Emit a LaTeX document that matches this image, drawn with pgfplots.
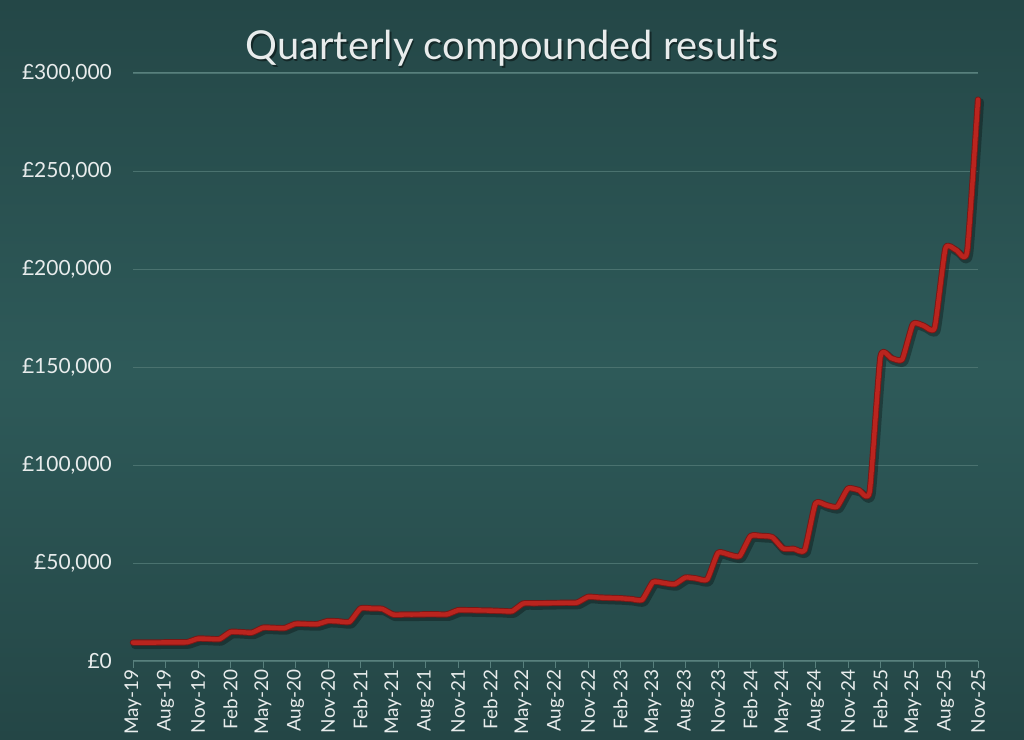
\documentclass[border=0pt]{standalone}
\usepackage{fontspec}
\setmainfont{Lato}
\usepackage{pgfplots}
\usepackage{pgfplotstable}
\pgfplotsset{compat=1.18}
\definecolor{bgtop}{RGB}{36,71,71}
\definecolor{bgmid}{RGB}{46,90,89}
\definecolor{bgbot}{RGB}{36,70,70}
\definecolor{gridc}{RGB}{74,114,111}
\definecolor{axisc}{RGB}{88,128,125}
\definecolor{txt}{RGB}{232,236,236}
\definecolor{linered}{RGB}{186,36,30}
\definecolor{lineedge}{RGB}{120,24,22}
\pgfplotstableread{
m v
0 9400
1 9400
2 9400
3 9500
4 9500
5 9600
6 11400
7 11300
8 11200
9 14800
10 14700
11 14500
12 17000
13 16900
14 16800
15 19000
16 18900
17 18800
18 20400
19 20200
20 20000
21 26800
22 26800
23 26600
24 23700
25 23700
26 23700
27 23800
28 23800
29 23800
30 25900
31 25900
32 25800
33 25700
34 25500
35 25400
36 29300
37 29400
38 29500
39 29600
40 29700
41 29800
42 32700
43 32400
44 32200
45 32000
46 31600
47 31200
48 40300
49 39800
50 39200
51 42600
52 42100
53 41600
54 55200
55 54300
56 53500
57 63700
58 63800
59 63200
60 57400
61 57200
62 56500
63 80400
64 79500
65 78700
66 88000
67 87200
68 86300
69 155300
70 154500
71 153800
72 172000
73 171000
74 170000
75 210600
76 209600
77 208800
78 286400
}\data
\begin{document}
\begin{tikzpicture}[x=1bp,y=1bp]
\shade[top color=bgtop, bottom color=bgbot, middle color=bgmid] (0,0) rectangle (1024,740);
\node[anchor=base, text=black, opacity=0.45, inner sep=0pt, font=\fontsize{40}{48}\selectfont] at (513.5,678.5) {Quarterly compounded results};
\node[anchor=base, text=txt, inner sep=0pt, font=\fontsize{40}{48}\selectfont] at (512,680) {Quarterly compounded results};
\begin{axis}[
  at={(133bp,79bp)}, anchor=south west,
  width=845bp, height=588bp, scale only axis,
  xmin=0, xmax=78, ymin=0, ymax=300000,
  separate axis lines,
  x axis line style={draw=axisc, line width=1bp},
  y axis line style={draw=none},
  xtick={0,3,...,78},
  xticklabels={May-19,Aug-19,Nov-19,Feb-20,May-20,Aug-20,Nov-20,Feb-21,May-21,Aug-21,Nov-21,Feb-22,May-22,Aug-22,Nov-22,Feb-23,May-23,Aug-23,Nov-23,Feb-24,May-24,Aug-24,Nov-24,Feb-25,May-25,Aug-25,Nov-25},
  ytick={0,50000,100000,150000,200000,250000,300000},
  yticklabels={£0,{£50,000},{£100,000},{£150,000},{£200,000},{£250,000},{£300,000}},
  xtick pos=left,
  xtick align=outside,
  ytick align=inside,
  major tick length=7bp,
  xtick style={draw=axisc, line width=0.8bp},
  ytick style={draw=none},
  ymajorgrids,
  grid style={draw=gridc, line width=0.8bp},
  x tick label style={rotate=90, anchor=east, inner sep=1.5bp, text=txt, font=\fontsize{19}{22}\selectfont},
  y tick label style={anchor=east, inner sep=0pt, xshift=-21bp, text=txt, font=\fontsize{21}{24}\selectfont},
  scaled y ticks=false,
  clip=false,
]
\addplot[draw=black, opacity=0.3, line width=8bp, smooth, tension=0.3, line join=round, line cap=round, transform canvas={xshift=2bp,yshift=-2.5bp}] table[x=m,y=v] {\data};
\addplot[draw=lineedge, line width=6.3bp, smooth, tension=0.3, line join=round, line cap=round] table[x=m,y=v] {\data};
\addplot[draw=linered, line width=4.4bp, smooth, tension=0.3, line join=round, line cap=round] table[x=m,y=v] {\data};
\end{axis}
\pgfresetboundingbox
\path (0,0) rectangle (1024,740);
\end{tikzpicture}
\end{document}
